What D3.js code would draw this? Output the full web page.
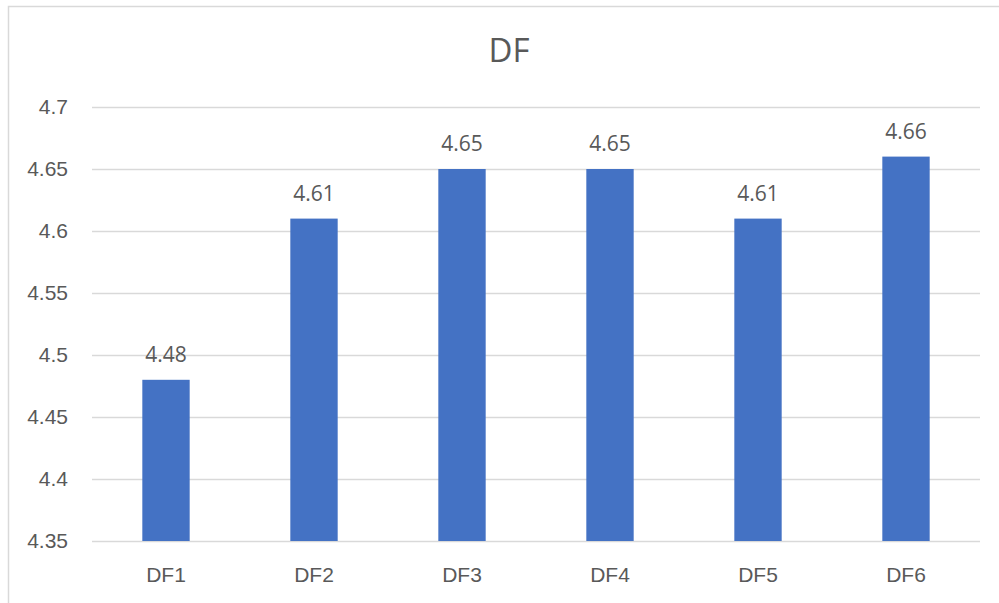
<!DOCTYPE html>
<html>
<head>
<meta charset="utf-8">
<script src="https://cdn.jsdelivr.net/npm/d3@7"></script>
<style>
  html, body { margin: 0; padding: 0; background: #fff; }
  svg { display: block; font-family: "Open Sans", "Liberation Sans", sans-serif; }
</style>
</head>
<body>
<svg id="chart" width="999" height="603"></svg>
<script>
// Chart data
const categories = ["DF1", "DF2", "DF3", "DF4", "DF5", "DF6"];
const values = [4.48, 4.61, 4.65, 4.65, 4.61, 4.66];
const yTicks = [4.35, 4.4, 4.45, 4.5, 4.55, 4.6, 4.65, 4.7];
const titleText = "DF";

const svg = d3.select("#chart");
const W = 999, H = 603;
const textColor = "#595959";
const gridColor = "#d9d9d9";
const barColor = "#4472c4";
const labelSize = "21px";

// Chart area frame
svg.append("rect")
  .attr("x", 8.5).attr("y", 6.5)
  .attr("width", W + 10).attr("height", H + 10)
  .attr("fill", "#fff")
  .attr("stroke", gridColor)
  .attr("stroke-width", 1.5);

const plot = { left: 92, right: 980, top: 107, bottom: 541 };

const x = d3.scaleBand()
  .domain(categories)
  .range([plot.left, plot.right])
  .paddingInner(0.68)
  .paddingOuter(0.34);

const y = d3.scaleLinear()
  .domain([4.35, 4.7])
  .range([plot.bottom, plot.top]);

// Horizontal gridlines
svg.append("g")
  .selectAll("line")
  .data(yTicks)
  .join("line")
  .attr("x1", plot.left).attr("x2", plot.right)
  .attr("y1", d => Math.round(y(d)) + 0.5)
  .attr("y2", d => Math.round(y(d)) + 0.5)
  .attr("stroke", gridColor)
  .attr("stroke-width", 1.5);

// Y axis labels
const yAxis = d3.axisLeft(y)
  .tickValues(yTicks)
  .tickFormat(d => String(+d.toFixed(2)))
  .tickSize(0)
  .tickPadding(0);

const gy = svg.append("g")
  .attr("transform", `translate(68,0)`)
  .call(yAxis);
gy.select(".domain").remove();
gy.selectAll("text")
  .attr("fill", textColor)
  .style("font-size", labelSize);

// X axis labels
const xAxis = d3.axisBottom(x).tickSize(0).tickPadding(0);
const gx = svg.append("g")
  .attr("transform", `translate(0,${plot.bottom + 26})`)
  .call(xAxis);
gx.select(".domain").remove();
gx.selectAll("text")
  .attr("fill", textColor)
  .style("font-size", labelSize);

// Bars
svg.append("g")
  .selectAll("rect")
  .data(values)
  .join("rect")
  .attr("x", (d, i) => x(categories[i]))
  .attr("width", x.bandwidth())
  .attr("y", d => y(d))
  .attr("height", d => y(4.35) - y(d))
  .attr("fill", barColor);

// Value labels
svg.append("g")
  .selectAll("text")
  .data(values)
  .join("text")
  .attr("x", (d, i) => x(categories[i]) + x.bandwidth() / 2)
  .attr("y", d => y(d) - 18)
  .attr("text-anchor", "middle")
  .attr("fill", textColor)
  .style("font-size", labelSize)
  .text(d => d.toFixed(2));

// Title
svg.append("text")
  .attr("x", 509)
  .attr("y", 62)
  .attr("text-anchor", "middle")
  .attr("fill", textColor)
  .style("font-size", "33px")
  .text(titleText);
</script>
</body>
</html>
